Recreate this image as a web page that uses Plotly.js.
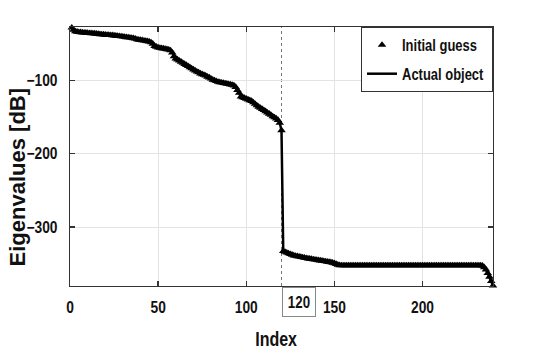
<!DOCTYPE html>
<html>
<head>
<meta charset="utf-8">
<script src="https://cdn.plot.ly/plotly-3.0.1.min.js"></script>
<style>html,body{margin:0;padding:0;background:#fff;}#chart{width:545px;height:354px;}</style>
</head>
<body>
<div id="chart"></div>
<script>
// Eigenvalue index (1-based)
const indexValues = [];
for (let i = 1; i <= 240; i++) indexValues.push(i);

// Eigenvalues [dB]
const eigenvaluesDb = [
  -28, -31, -33, -33.5, -34, -34.3, -34.6, -34.8, -35, -35.2,
  -35.4, -35.6, -35.8, -36, -36.3, -36.6, -37, -37.2, -37.4, -37.6,
  -37.8, -38, -38.2, -38.4, -38.7, -39, -39.3, -39.6, -39.9, -40.2,
  -40.6, -41, -41.3, -41.6, -42, -42.5, -43, -44, -44.4, -44.8,
  -45.2, -45.6, -46, -46.5, -47, -48, -50, -53, -54, -55,
  -55.5, -56, -56.5, -57, -57.5, -58, -59, -62, -67, -70,
  -71.5, -73, -74.5, -76, -77.5, -79, -80.5, -82, -83.5, -85,
  -86.5, -88, -89, -90.5, -91.5, -92.5, -93.5, -95, -96, -97.5,
  -99, -100, -101, -102, -102.5, -103, -103.5, -104, -104.5, -105,
  -105.5, -106, -107, -109, -113, -117, -122, -123, -124, -125,
  -126, -127, -128, -130, -132, -134, -136, -137.5, -139, -140.5,
  -142, -144, -145.5, -147, -149, -150.5, -152, -154, -158, -168,
  -333, -334, -335, -336, -337, -338, -339, -339.5, -340, -340.5,
  -341, -341.5, -342, -342.5, -343, -343.4, -343.8, -344.2, -344.6, -345,
  -345.4, -345.8, -346.2, -346.6, -347, -347.4, -347.8, -348.2, -348.8, -349.5,
  -350.5, -351.5, -352.3, -352.5, -352.5, -352.5, -352.5, -352.5, -352.5, -352.5,
  -352.5, -352.5, -352.5, -352.5, -352.5, -352.5, -352.5, -352.5, -352.5, -352.5,
  -352.5, -352.5, -352.5, -352.5, -352.5, -352.5, -352.5, -352.5, -352.5, -352.5,
  -352.5, -352.5, -352.5, -352.5, -352.5, -352.5, -352.5, -352.5, -352.5, -352.5,
  -352.5, -352.5, -352.5, -352.5, -352.5, -352.5, -352.5, -352.5, -352.5, -352.5,
  -352.5, -352.5, -352.5, -352.5, -352.5, -352.5, -352.5, -352.5, -352.5, -352.5,
  -352.5, -352.5, -352.5, -352.5, -352.5, -352.5, -352.5, -352.5, -352.5, -352.5,
  -352.5, -352.5, -352.5, -352.5, -352.5, -352.5, -352.5, -352.5, -352.5, -352.5,
  -352.5, -352.5, -352.5, -353, -355, -358, -363, -368, -374, -380
];

const seriesNames = ["Initial guess", "Actual object"];
const xTickValues = [0, 50, 100, 150, 200];
const yTickValues = [-300, -200, -100];
const cutIndex = 120;
const xTitle = "Index";
const yTitle = "Eigenvalues [dB]";

const fam = '"Liberation Sans", Arial, sans-serif';

const traces = [
  {
    x: indexValues, y: eigenvaluesDb, name: seriesNames[0], type: 'scatter', mode: 'markers',
    marker: {symbol: 'triangle-up', size: 7.5, color: '#000'},
    legendgroup: 'a', cliponaxis: false
  },
  {
    x: indexValues, y: eigenvaluesDb, name: seriesNames[1], type: 'scatter', mode: 'lines',
    line: {color: '#000', width: 2.5},
    legendgroup: 'b', cliponaxis: false
  }
];

const axisCommon = {
  showline: true, linecolor: '#333', linewidth: 1.3, mirror: 'ticks',
  ticks: 'inside', ticklen: 5, tickwidth: 1.3, tickcolor: '#333',
  showgrid: true, gridcolor: '#e3e3e3', gridwidth: 1, zeroline: false,
  tickfont: {family: fam, size: 16, color: '#111', weight: 700}
};

const layout = {
  width: 545, height: 354,
  margin: {l: 70, r: 52, t: 27, b: 68},
  paper_bgcolor: '#fff', plot_bgcolor: '#fff',
  showlegend: true,
  xaxis: Object.assign({}, axisCommon, {range: [0, 240], tickvals: xTickValues, ticklabelstandoff: 6}),
  yaxis: Object.assign({}, axisCommon, {range: [-380.5, -27], tickvals: yTickValues, ticklabelstandoff: 8}),
  legend: {
    x: 0.688, y: 1, xanchor: 'left', yanchor: 'top',
    bordercolor: '#333', borderwidth: 1, bgcolor: '#fff',
    font: {family: fam, size: 16, color: '#111', weight: 700},
    traceorder: 'grouped', tracegroupgap: 5
  },
  shapes: [
    {type: 'line', xref: 'x', yref: 'paper', x0: cutIndex, x1: cutIndex, y0: 0, y1: 1,
     line: {color: '#777', width: 1, dash: 'dot'}, layer: 'below'}
  ],
  annotations: [
    {text: String(cutIndex), xref: 'x', yref: 'paper', x: cutIndex, y: -0.004, xanchor: 'left', yanchor: 'top',
     showarrow: false, bordercolor: '#888', borderwidth: 1, borderpad: 3, width: 26, height: 22,
     font: {family: fam, size: 16, color: '#111', weight: 700}},
    {text: xTitle, xref: 'paper', yref: 'paper', x: 0.488, y: -0.205, xanchor: 'center', yanchor: 'middle',
     showarrow: false, font: {family: fam, size: 20, color: '#111', weight: 700}},
    {text: yTitle, xref: 'paper', yref: 'paper', x: -0.123, y: 0.419, xanchor: 'center', yanchor: 'middle',
     textangle: -90, showarrow: false, font: {family: fam, size: 22, color: '#111', weight: 700}}
  ]
};

// Horizontally condense text (the reference uses a narrow bold face)
function condense(sel, factor) {
  let maxSaved = 0;
  document.querySelectorAll(sel).forEach(function (el) {
    const len = el.getComputedTextLength();
    if (len > 0) {
      el.setAttribute('textLength', (len * factor).toFixed(2));
      el.setAttribute('lengthAdjust', 'spacingAndGlyphs');
      maxSaved = Math.max(maxSaved, len * (1 - factor));
    }
  });
  return maxSaved;
}

Plotly.newPlot('chart', traces, layout, {displayModeBar: false, staticPlot: true}).then(function () {
  condense('.xtick text, .ytick text', 0.86);
  const saved = condense('.legendtext', 0.81);
  const bg = document.querySelector('.legend rect.bg');
  if (bg) bg.setAttribute('width', (parseFloat(bg.getAttribute('width')) - saved + 2).toFixed(1));
  const ann = document.querySelectorAll('.annotation-text');
  if (ann[0]) { const l = ann[0].getComputedTextLength(); ann[0].setAttribute('textLength', (l * 0.83).toFixed(2)); ann[0].setAttribute('lengthAdjust', 'spacingAndGlyphs'); }
  if (ann[1]) { const l = ann[1].getComputedTextLength(); ann[1].setAttribute('textLength', (l * 0.8).toFixed(2)); ann[1].setAttribute('lengthAdjust', 'spacingAndGlyphs'); }
});
</script>
</body>
</html>
